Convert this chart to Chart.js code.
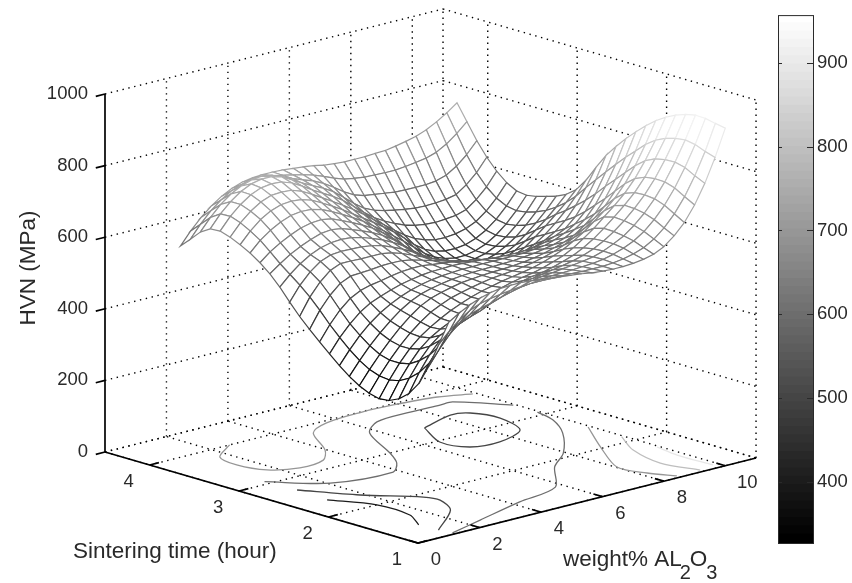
<!DOCTYPE html>
<html>
<head>
<meta charset="utf-8">
<title>HVN surface</title>
<script src="https://cdn.jsdelivr.net/npm/chart.js@4"></script>
<style>
  html, body { margin: 0; padding: 0; background: #fff; }
  #wrap { position: relative; width: 852px; height: 583px; overflow: hidden; }
  canvas { position: absolute; top: 0; }
</style>
</head>
<body>
<div id="wrap">
  <canvas id="surface" width="852" height="583" style="left:0"></canvas>
  <canvas id="bar" width="92" height="583" style="left:760px"></canvas>
</div>
<script>
// tick labels
const weightTicks = [0, 2, 4, 6, 8, 10];
const timeTicks = [1, 2, 3, 4];
const hvnTicks = [0, 200, 400, 600, 800, 1000];
const barTicks = [400, 500, 600, 700, 800, 900];

// mesh positions
const weightGrid = [1, 1.333, 1.667, 2, 2.333, 2.667, 3, 3.333, 3.667, 4, 4.333, 4.667, 5, 5.333, 5.667, 6, 6.333, 6.667, 7, 7.333, 7.667, 8, 8.333, 8.667, 9, 9.333, 9.667, 10];
const timeGrid = [1, 1.111, 1.222, 1.333, 1.444, 1.556, 1.667, 1.778, 1.889, 2, 2.111, 2.222, 2.333, 2.444, 2.556, 2.667, 2.778, 2.889, 3, 3.111, 3.222, 3.333, 3.444, 3.556, 3.667, 3.778, 3.889, 4];

// HVN, one row per timeGrid entry
const hvn = [
  [595,613,628,640,648,653,655,655,653,650,647,643,640,637,632,630,628,628,630,634,641,655,678,708,750,803,868,943],
  [525,554,579,598,610,617,622,626,629,631,631,630,630,629,628,628,628,630,634,641,651,668,692,724,765,816,877,948],
  [456,496,530,556,572,581,589,598,606,613,617,620,622,623,624,626,628,632,639,649,662,681,707,740,781,831,888,954],
  [400,449,489,520,539,550,560,573,585,595,603,607,612,615,619,622,626,631,640,653,668,690,717,750,790,838,893,955],
  [364,415,457,490,511,524,536,550,565,576,585,592,598,603,608,613,619,627,638,653,672,695,722,753,791,837,889,949],
  [341,391,433,466,489,502,516,531,544,557,567,575,583,589,593,600,609,619,633,651,673,697,723,751,787,831,881,939],
  [328,376,416,450,474,491,505,519,534,545,555,564,572,578,583,590,600,610,625,644,665,690,714,741,775,818,868,925],
  [325,370,410,443,469,489,506,521,533,544,553,560,567,572,577,583,591,601,613,629,647,669,692,719,753,796,848,907],
  [332,373,410,443,471,495,515,529,541,549,556,562,567,570,573,577,582,589,598,609,623,641,663,689,724,769,822,885],
  [345,383,418,450,479,504,525,539,548,555,561,564,567,569,570,572,575,579,585,593,602,615,635,660,695,741,796,860],
  [363,400,434,463,489,512,530,543,551,557,562,565,567,568,569,570,571,574,577,582,588,598,615,636,669,714,768,833],
  [385,422,455,482,504,521,535,546,554,560,564,566,568,568,569,569,569,569,570,573,576,585,597,615,643,685,739,803],
  [410,448,479,505,523,535,545,554,560,565,568,569,570,569,567,565,562,561,560,561,563,570,580,594,620,659,709,770],
  [435,476,510,535,550,558,563,569,574,576,576,572,569,565,560,556,551,545,543,542,544,550,561,578,602,636,679,729],
  [462,508,543,569,582,584,586,589,590,589,584,576,568,560,553,545,536,528,522,520,521,529,542,562,586,614,647,685],
  [490,537,572,597,609,609,608,608,608,603,594,582,570,558,547,535,523,512,505,502,502,510,525,547,570,595,621,650],
  [522,562,592,614,625,628,627,626,622,615,604,591,576,559,542,526,512,500,492,488,488,494,508,527,550,573,600,629],
  [556,584,607,625,637,644,646,644,637,627,616,602,585,564,541,520,504,491,482,476,476,480,492,508,530,555,583,616],
  [585,606,625,640,652,662,665,661,651,640,628,613,595,571,544,520,502,488,478,471,469,472,481,496,515,541,571,607],
  [608,631,649,664,676,683,685,680,668,655,641,625,605,582,556,532,511,493,479,470,467,468,475,488,507,532,562,599],
  [627,655,676,692,703,707,706,698,685,670,654,637,617,596,574,552,528,504,486,475,469,469,475,486,504,528,558,594],
  [642,673,698,715,725,728,725,716,701,685,668,649,630,611,591,570,546,520,500,487,481,480,484,494,510,533,563,598],
  [655,688,713,732,743,745,743,733,717,700,683,665,646,626,603,582,560,539,522,511,504,503,506,513,526,548,577,613],
  [664,698,724,744,756,760,758,748,732,714,698,682,663,640,616,594,577,563,551,543,539,537,539,542,551,572,600,637],
  [662,697,724,745,759,765,765,757,741,725,711,697,680,657,633,612,599,591,585,580,576,575,576,579,585,605,632,668],
  [645,679,708,730,745,755,758,753,742,730,719,709,695,677,657,641,632,628,624,620,619,619,619,622,631,649,674,706],
  [617,652,682,705,723,734,741,742,737,731,725,718,710,699,687,677,672,668,667,666,666,669,673,678,687,703,725,751],
  [590,625,655,680,700,715,725,730,732,732,731,728,725,721,715,712,710,710,710,712,713,718,724,731,742,757,775,796]
];

// floor contours as [weight, time] pairs
const contour400 = [[1,2.36],[1.57,2.0],[1.54,1.62],[1.1,1.37]];
const contour500a = [[1.07,2.72],[1.87,2.29],[2.85,1.92],[2.96,1.77],[2.54,1.51],[1.13,1.16]];
const contour500b = [[7.02,3.34],[8.24,3.47],[8.71,3.41],[8.93,3.15],[8.56,2.8],[7.49,2.66],[6.67,2.71],[6.44,2.97],[7.02,3.34]];
const contour600a = [[1,3.06],[2.06,2.69],[3.82,2.59],[4.43,2.76],[4.91,3.0],[5.76,3.52],[6.55,3.71],[7.72,3.74],[8.66,3.73],[9.07,3.73],[9.94,3.35]];
const contour600b = [[9.94,3.08],[9.74,2.84],[9.13,2.52],[7.93,2.1],[6.95,1.86],[5.75,1.44],[4.24,1.32],[2.46,1.15],[1.21,1.03]];
const contour700a = [[2.6,4.0],[1.7,3.8],[1.52,3.55],[1.75,3.29],[2.44,3.16],[3.32,3.2],[3.96,3.4],[4.77,3.81],[5.61,3.95],[6.85,3.99],[7.85,3.975],[9.1,3.91],[9.9,3.79]];
const contour700b = [[9.93,2.51],[8.94,2.03],[8.03,1.535],[8.2,1.255],[8.54,1.04]];
const contour800 = [[9.92,2.13],[9.33,1.8],[9.02,1.39],[9.3,1.04]];
const contour900 = [[9.93,1.74],[9.8,1.47],[9.83,1.08]];

const weightMax = 11, timeMin = 1, timeMax = 4.5, hvnMax = 1000;
const colorMin = 327, colorMax = 957, colorSteps = 64;
const font = '"Liberation Sans", Arial, sans-serif';
const ink = "#2a2a2a";

// orthographic view, fitted to the axis box of the picture
function project(w, t, z) {
  const T = t - timeMin;
  return {
    x: 418 + w * 30.73 - T * 89.43,
    y: 543 - w * 7.73 - T * 26 - z * 0.358
  };
}

function grayFor(z) {
  let f = (z - colorMin) / (colorMax - colorMin);
  f = Math.max(0, Math.min(1, f));
  const v = Math.round(Math.floor(f * (colorSteps - 1) + 0.5) / (colorSteps - 1) * 255);
  return `rgb(${v},${v},${v})`;
}

function lineSet(points, color, extra) {
  return Object.assign({
    data: points, showLine: true, pointRadius: 0, borderColor: color, borderWidth: 1, tension: 0, fill: false
  }, extra || {});
}

const layers = [];
const dotted = { borderDash: [1.4, 4.6], borderWidth: 1.4 };
const gridWeights = weightTicks.concat([weightMax]);
const gridTimes = timeTicks.concat([timeMax]);

// floor grid
gridWeights.forEach(w => layers.push(lineSet([project(w, timeMin, 0), project(w, timeMax, 0)], "#000", dotted)));
gridTimes.forEach(t => layers.push(lineSet([project(0, t, 0), project(weightMax, t, 0)], "#000", dotted)));
// back walls
gridWeights.forEach(w => {
  if (w > 0) layers.push(lineSet([project(w, timeMax, 0), project(w, timeMax, hvnMax)], "#000", dotted));
});
gridTimes.forEach(t => {
  if (t < timeMax) layers.push(lineSet([project(weightMax, t, 0), project(weightMax, t, hvnMax)], "#000", dotted));
});
hvnTicks.forEach(z => {
  layers.push(lineSet([project(0, timeMax, z), project(weightMax, timeMax, z)], "#000", dotted));
  layers.push(lineSet([project(weightMax, timeMax, z), project(weightMax, timeMin, z)], "#000", dotted));
});

// contours on the floor
[[contour400, 400], [contour500a, 500], [contour500b, 500], [contour600a, 600], [contour600b, 600],
 [contour700a, 700], [contour700b, 700], [contour800, 800], [contour900, 900]].forEach(([path, level]) => {
  const pts = path.map(p => project(p[0], p[1], 0));
  layers.push(lineSet(pts, grayFor(level), { tension: 0.3, borderWidth: 1.3 }));
});

// solid axes with ticks
const axisStyle = { borderWidth: 1.7 };
layers.push(lineSet([project(0, timeMax, 0), project(0, timeMax, hvnMax)], "#000", axisStyle));
layers.push(lineSet([project(0, timeMax, 0), project(0, timeMin, 0), project(weightMax, timeMin, 0)], "#000", axisStyle));
hvnTicks.forEach(z => layers.push(lineSet([project(0, timeMax, z), project(-0.3, timeMax, z)], "#000", axisStyle)));
weightTicks.forEach(w => layers.push(lineSet([project(w, timeMin, 0), project(w, timeMin + 0.1, 0)], "#000", axisStyle)));
timeTicks.forEach(t => layers.push(lineSet([project(0, t, 0), project(0.3, t, 0)], "#000", axisStyle)));

// mesh, far cells first so nearer cells hide them
for (let i = timeGrid.length - 2; i >= 0; i--) {
  for (let j = weightGrid.length - 2; j >= 0; j--) {
    const zs = [hvn[i][j], hvn[i][j + 1], hvn[i + 1][j + 1], hvn[i + 1][j]];
    const pts = [
      project(weightGrid[j], timeGrid[i], zs[0]),
      project(weightGrid[j + 1], timeGrid[i], zs[1]),
      project(weightGrid[j + 1], timeGrid[i + 1], zs[2]),
      project(weightGrid[j], timeGrid[i + 1], zs[3])
    ];
    pts.push(pts[0]);
    const mean = (zs[0] + zs[1] + zs[2] + zs[3]) / 4;
    layers.push(lineSet(pts, grayFor(mean), { fill: "shape", backgroundColor: "#fff", borderWidth: 1.2 }));
  }
}

// tick and axis text
const textPlugin = {
  id: "axisText",
  afterDatasetsDraw(chart) {
    const ctx = chart.ctx;
    ctx.save();
    ctx.fillStyle = ink;
    ctx.font = `18.5px ${font}`;
    ctx.textBaseline = "middle";
    ctx.textAlign = "right";
    hvnTicks.forEach(z => ctx.fillText(String(z), 88, project(0, timeMax, z).y));
    ctx.textAlign = "center";
    weightTicks.forEach(w => {
      const p = project(w, timeMin, 0);
      ctx.fillText(String(w), p.x + (w > 9 ? 22 : 18), p.y + 17);
    });
    timeTicks.forEach(t => {
      const p = project(0, t, 0);
      ctx.fillText(String(t), p.x - 21, p.y + 17);
    });

    ctx.font = `22.5px ${font}`;
    ctx.textAlign = "left";
    ctx.fillText("Sintering time (hour)", 73, 552);
    ctx.fillText("weight% AL", 563, 560);
    const baseX = 563 + ctx.measureText("weight% AL").width;
    ctx.fillText("O", baseX + 8, 560);
    const oWidth = ctx.measureText("O").width;
    ctx.font = `20px ${font}`;
    ctx.fillText("2", baseX - 2, 573);
    ctx.fillText("3", baseX + 8 + oWidth - 1, 573);

    ctx.font = `22.5px ${font}`;
    ctx.translate(35, 268);
    ctx.rotate(-Math.PI / 2);
    ctx.textAlign = "center";
    ctx.textBaseline = "alphabetic";
    ctx.fillText("HVN (MPa)", 0, 0);
    ctx.restore();
  }
};

new Chart(document.getElementById("surface"), {
  type: "scatter",
  data: { datasets: layers.reverse() },
  options: {
    responsive: false,
    animation: false,
    events: [],
    layout: { padding: 0 },
    plugins: { legend: { display: false }, tooltip: { enabled: false } },
    scales: {
      x: { type: "linear", display: false, min: 0, max: 852 },
      y: { type: "linear", display: false, min: 0, max: 583, reverse: true }
    }
  },
  plugins: [textPlugin]
});

// colorbar
const bands = [];
for (let k = 0; k < colorSteps; k++) {
  const lo = colorMin + (colorMax - colorMin) * k / colorSteps;
  const hi = colorMin + (colorMax - colorMin) * (k + 1) / colorSteps;
  const v = Math.round(k / (colorSteps - 1) * 255);
  bands.push({ data: [[lo, k === colorSteps - 1 ? hi : hi + 1]], backgroundColor: `rgb(${v},${v},${v})`, borderWidth: 0, grouped: false, barPercentage: 1, categoryPercentage: 1 });
}

const framePlugin = {
  id: "barFrame",
  afterDatasetsDraw(chart) {
    const { ctx, chartArea: a, scales } = chart;
    ctx.save();
    ctx.strokeStyle = ink;
    ctx.lineWidth = 1;
    ctx.strokeRect(a.left + 0.5, a.top + 0.5, a.right - a.left, a.bottom - a.top);
    barTicks.forEach(v => {
      const y = Math.round(scales.y.getPixelForValue(v)) + 0.5;
      ctx.beginPath();
      ctx.moveTo(a.left, y); ctx.lineTo(a.left + 4, y);
      ctx.moveTo(a.right - 6, y); ctx.lineTo(a.right + 1, y);
      ctx.stroke();
    });
    ctx.restore();
  }
};

new Chart(document.getElementById("bar"), {
  type: "bar",
  data: { labels: [""], datasets: bands },
  options: {
    responsive: false,
    animation: false,
    events: [],
    layout: { padding: { left: 18, top: 9, bottom: 40, right: 0 } },
    plugins: { legend: { display: false }, tooltip: { enabled: false } },
    scales: {
      x: { display: false },
      y: {
        min: colorMin, max: colorMax, position: "right",
        grid: { display: false, drawTicks: false }, border: { display: false },
        afterFit: s => { s.width = 39; },
        ticks: { stepSize: 100, includeBounds: false, padding: 4, color: ink, font: { family: "Liberation Sans", size: 18.5 } }
      }
    }
  },
  plugins: [framePlugin]
});
</script>
</body>
</html>
